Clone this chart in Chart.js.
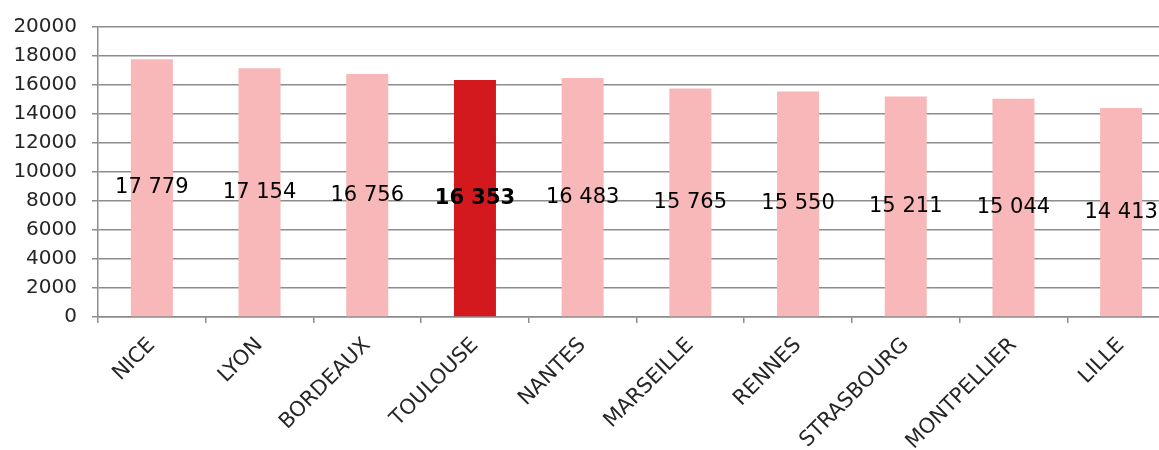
<!DOCTYPE html>
<html lang="fr">
<head>
<meta charset="utf-8">
<script src="https://cdn.jsdelivr.net/npm/chart.js@4/dist/chart.umd.min.js"></script>
<style>
  body { margin: 0; background: #fff; }
  #cadre { width: 1159px; height: 450px; overflow: hidden; }
  #wrap { width: 1175px; height: 450px; position: relative; }
</style>
</head>
<body>
<div id="cadre"><div id="wrap"><canvas id="villesChart"></canvas></div></div>
<script>
// Villes et valeurs
const villes = ['NICE', 'LYON', 'BORDEAUX', 'TOULOUSE', 'NANTES', 'MARSEILLE', 'RENNES', 'STRASBOURG', 'MONTPELLIER', 'LILLE'];
const valeurs = [17779, 17154, 16756, 16353, 16483, 15765, 15550, 15211, 15044, 14413];
const villeMiseEnAvant = 'TOULOUSE';
const graduations = [0, 2000, 4000, 6000, 8000, 10000, 12000, 14000, 16000, 18000, 20000];

const ROSE = '#F8B7B8';
const ROUGE = '#D3191D';

// "17 779" style
function formatNombre(v) {
    return String(v).replace(/\B(?=(\d{3})+(?!\d))/g, ' ');
}

// Write each value in the middle of its bar
const etiquettesBarres = {
    id: 'etiquettesBarres',
    afterDatasetsDraw(chart) {
        const ctx = chart.ctx;
        const meta = chart.getDatasetMeta(0);
        ctx.save();
        ctx.textAlign = 'center';
        ctx.textBaseline = 'middle';
        ctx.fillStyle = '#000';
        meta.data.forEach(function(bar, i) {
            const gras = villes[i] === villeMiseEnAvant;
            ctx.font = (gras ? 'bold ' : '') + '21px "DejaVu Sans", Verdana, sans-serif';
            ctx.fillText(formatNombre(valeurs[i]), bar.x, (bar.y + bar.base) / 2);
        });
        ctx.restore();
    }
};

const ctx = document.getElementById('villesChart');

new Chart(ctx, {
    type: 'bar',
    data: {
        labels: villes,
        datasets: [{
            data: valeurs,
            backgroundColor: villes.map(v => v === villeMiseEnAvant ? ROUGE : ROSE),
            borderWidth: 0,
            categoryPercentage: 1,
            barPercentage: 0.39
        }]
    },
    options: {
        responsive: true,
        maintainAspectRatio: false,
        animation: false,
        layout: {
            padding: { top: 16, right: 0, left: 0, bottom: 0 }
        },
        plugins: {
            legend: { display: false },
            tooltip: { enabled: false }
        },
        scales: {
            x: {
                grid: {
                    offset: true,
                    drawOnChartArea: false,
                    drawTicks: true,
                    tickLength: 6,
                    color: '#8c8c8c',
                    lineWidth: 1.5
                },
                border: { color: '#8c8c8c', width: 1.5 },
                ticks: {
                    maxRotation: 45,
                    minRotation: 45,
                    autoSkip: false,
                    padding: 10,
                    color: '#262626',
                    font: { family: '"DejaVu Sans", Verdana, sans-serif', size: 21 }
                },
                afterFit(scale) { scale.height = 133; }
            },
            y: {
                min: 0,
                max: 20000,
                afterBuildTicks(scale) {
                    scale.ticks = graduations.map(v => ({ value: v }));
                },
                grid: {
                    color: '#8c8c8c',
                    lineWidth: 1.5,
                    tickLength: 6
                },
                border: { color: '#8c8c8c', width: 1.5 },
                ticks: {
                    padding: 15,
                    color: '#262626',
                    font: { family: '"DejaVu Sans", Verdana, sans-serif', size: 20 },
                    callback: v => String(v)
                },
                afterFit(scale) { scale.width = 98; }
            }
        }
    },
    plugins: [etiquettesBarres]
});
</script>
</body>
</html>
